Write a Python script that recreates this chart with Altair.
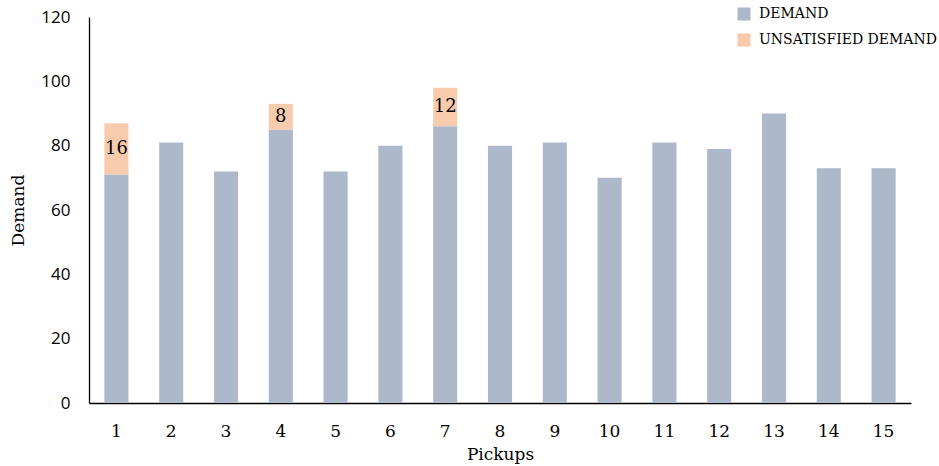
import altair as alt
import pandas as pd

# Pickup demand per location, with the part that could not be served
pickups = list(range(1, 16))
demand = [71, 81, 72, 85, 72, 80, 86, 80, 81, 70, 81, 79, 90, 73, 73]
unsatisfied = [16, 0, 0, 8, 0, 0, 12, 0, 0, 0, 0, 0, 0, 0, 0]
series = ["Demand", "Unsatisfied demand"]
colors = ["#ADB9CA", "#F8CBAD"]
y_ticks = [0, 20, 40, 60, 80, 100, 120]

SERIF = "DejaVu Serif"
SANS = "Open Sans"

rows = []
for p, d, u in zip(pickups, demand, unsatisfied):
    rows.append({"Pickup": p, "Series": series[0], "Value": d, "Order": 0})
    rows.append({"Pickup": p, "Series": series[1], "Value": u, "Order": 1})
bars_df = pd.DataFrame(rows)

labels_df = pd.DataFrame({"Pickup": pickups, "Base": demand, "Unsat": unsatisfied})
labels_df = labels_df[labels_df["Unsat"] > 0].copy()
labels_df["Mid"] = labels_df["Base"] + labels_df["Unsat"] / 2

x_enc = alt.X(
    "Pickup:O",
    title="Pickups",
    scale=alt.Scale(paddingInner=0.56, paddingOuter=0.28),
    axis=alt.Axis(
        labelAngle=0, ticks=False, domainColor="#000000", domainWidth=1.3,
        labelFont=SERIF, labelFontSize=17, labelColor="#000000", labelPadding=20,
        titleFont=SERIF, titleFontSize=17, titleFontWeight="normal",
        titleColor="#000000", titlePadding=7,
    ),
)

bars = alt.Chart(bars_df).mark_bar().encode(
    x=x_enc,
    y=alt.Y(
        "Value:Q",
        stack="zero",
        title="Demand",
        scale=alt.Scale(domain=[0, 120], nice=False),
        axis=alt.Axis(
            values=y_ticks, grid=False, ticks=False,
            domainColor="#000000", domainWidth=1.3,
            labelFont=SANS, labelFontSize=17, labelColor="#000000", labelPadding=19,
            titleFont=SERIF, titleFontSize=17, titleFontWeight="normal",
            titleColor="#000000", titlePadding=13,
        ),
    ),
    color=alt.Color(
        "Series:N",
        scale=alt.Scale(domain=series, range=colors),
        legend=alt.Legend(
            title=None, orient="none", legendX=648, legendY=-10,
            symbolType="square", symbolSize=170, symbolStrokeWidth=0,
            labelFont=SERIF, labelFontSize=14, labelColor="#000000",
            labelExpr="upper(datum.label)", labelLimit=0,
            rowPadding=12, padding=0, labelOffset=8,
        ),
    ),
    order=alt.Order("Order:Q"),
)

text = alt.Chart(labels_df).mark_text(
    font=SERIF, fontSize=18, color="#000000", baseline="middle"
).encode(
    x=alt.X("Pickup:O"),
    y=alt.Y("Mid:Q"),
    text=alt.Text("Unsat:Q"),
)

chart = (
    alt.layer(bars, text)
    .properties(
        width=822, height=386,
        autosize=alt.AutoSizeParams(type="none"),
        padding={"left": 89, "top": 17, "right": 28, "bottom": 63},
        background="white",
    )
    .configure_view(stroke=None)
)

chart.save("out.html", embed_options={"renderer": "svg", "actions": False})
